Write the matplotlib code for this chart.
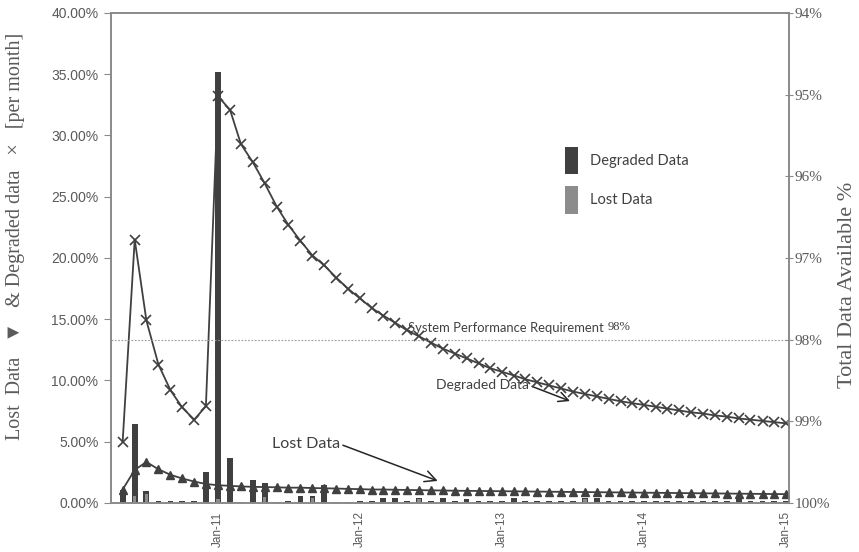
import matplotlib.pyplot as plt
import matplotlib.dates as mdates
from matplotlib.patches import Patch
import numpy as np
import pandas as pd

# monthly data, May-10 .. Jan-15
months = pd.date_range('2010-05-01', '2015-01-01', freq='MS')

# Degraded data per month (x markers), %
degraded_line = [5.0, 21.5, 14.9, 11.3, 9.2, 7.8, 6.8, 7.9,
                 33.2, 32.1, 29.3, 27.8, 26.1, 24.2, 22.7, 21.4, 20.2, 19.4, 18.4, 17.5,
                 16.7, 15.9, 15.3, 14.7, 14.1, 13.6, 13.1, 12.6, 12.2, 11.8, 11.4, 11.0,
                 10.7, 10.4, 10.1, 9.85, 9.6, 9.35, 9.1, 8.9, 8.7, 8.5, 8.3, 8.15,
                 8.0, 7.85, 7.7, 7.55, 7.4, 7.3, 7.15, 7.05, 6.9, 6.8, 6.7, 6.6, 6.5]

# Lost data per month (triangle markers), %
lost_line = [1.1, 2.7, 3.35, 2.75, 2.3, 2.0, 1.75, 1.55,
             1.45, 1.4, 1.35, 1.32, 1.3, 1.28, 1.25, 1.25, 1.22, 1.2, 1.18, 1.15,
             1.13, 1.1, 1.1, 1.08, 1.06, 1.05, 1.03, 1.02, 1.0, 0.99, 0.98, 0.97,
             0.96, 0.95, 0.94, 0.93, 0.92, 0.91, 0.9, 0.89, 0.88, 0.87, 0.86, 0.85,
             0.84, 0.83, 0.82, 0.81, 0.8, 0.79, 0.78, 0.77, 0.76, 0.75, 0.74, 0.73, 0.72]

# bars: degraded data (dark) and lost data (light), %
degraded_bars = [1.1, 6.45, 1.0, 0.15, 0.15, 0.2, 0.2, 2.5,
                 35.2, 3.7, 0.1, 1.9, 1.6, 0.1, 0.15, 0.55, 0.55, 1.5, 0.05, 0.1,
                 0.15, 0.2, 0.4, 0.4, 0.15, 0.4, 0.15, 0.4, 0.15, 0.35, 0.2, 0.15,
                 0.2, 0.4, 0.15, 0.2, 0.15, 0.2, 0.15, 0.4, 0.4, 0.15, 0.2, 0.15,
                 0.2, 0.15, 0.2, 0.15, 0.2, 0.15, 0.2, 0.15, 0.45, 0.2, 0.15, 0.2, 0.15]
lost_bars = [0.0, 0.6, 0.7, 0.0, 0.0, 0.0, 0.0, 0.0,
             0.3, 0.0, 0.0, 0.0, 0.5, 0.0, 0.0, 0.0, 0.4, 0.0, 0.0, 0.0,
             0.0, 0.0, 0.0, 0.0, 0.0, 0.35, 0.0, 0.0, 0.0, 0.0, 0.0, 0.0,
             0.0, 0.0, 0.0, 0.0, 0.0, 0.0, 0.0, 0.3, 0.0, 0.0, 0.0, 0.0,
             0.0, 0.0, 0.0, 0.0, 0.0, 0.0, 0.0, 0.0, 0.0, 0.0, 0.0, 0.0, 0.0]

left_ticks = np.arange(0, 45, 5)
right_ticks = [94, 95, 96, 97, 98, 99, 100]
year_ticks = pd.to_datetime(['2011-01-01', '2012-01-01', '2013-01-01', '2014-01-01', '2015-01-01'])

dark = '#404040'
light = '#8c8c8c'
axis_gray = '#8a8a8a'
text_gray = '#5a5a5a'

fig = plt.figure(figsize=(8.59, 5.52), dpi=100)
ax = fig.add_axes([0.1292, 0.0888, 0.7893, 0.8877])
ax2 = ax.twinx()

# bars
ax.bar(months, degraded_bars, width=15, color=dark, zorder=2)
ax.bar(months, lost_bars, width=9, color=light, zorder=3)

# lines
ax.plot(months, degraded_line, color=dark, lw=1.3, marker='x', ms=6.5, mew=1.2, zorder=4)
ax.plot(months, lost_line, color=dark, lw=1.3, marker='^', ms=6, zorder=4)

ax.set_ylim(0, 40)
ax.set_yticks(left_ticks)
ax.set_yticklabels([f'{v:.2f}%' for v in left_ticks], family='Liberation Sans',
                   fontsize=10, color=text_gray)
ax.set_xlim(pd.Timestamp('2010-04-01'), pd.Timestamp('2015-01-08'))
ax.set_xticks(year_ticks)
ax.xaxis.set_major_formatter(mdates.DateFormatter('%b-%y'))
for lbl in ax.get_xticklabels():
    lbl.set_rotation(90)
    lbl.set_family('Liberation Sans')
    lbl.set_fontsize(8.5)
    lbl.set_color(text_gray)
ax.tick_params(axis='y', direction='out', length=5, color=axis_gray, pad=4)
ax.tick_params(axis='x', length=0, pad=6)

ax2.set_ylim(100, 94)
ax2.set_yticks(right_ticks)
ax2.set_yticklabels([f'{v}%' for v in right_ticks], family='Liberation Serif',
                    fontsize=11, color=text_gray)
ax2.tick_params(axis='y', direction='inout', length=6, color=axis_gray, pad=1)
ax2.axhline(98, color='#999999', lw=0.8, ls=(0, (1.5, 1.5)), zorder=1)

for a in (ax, ax2):
    for s in a.spines.values():
        s.set_color(axis_gray)
        s.set_linewidth(1.2)

ax.set_ylabel('Lost  Data   \u25bc   & Degraded data   \u00d7   [per month]',
              family=['Liberation Serif', 'DejaVu Sans'], fontsize=14.5, color=text_gray)
ax.yaxis.set_label_coords(-0.127, 0.545)
ax2.set_ylabel('Total Data Available %', family='Liberation Serif', fontsize=16,
               color=text_gray)
ax2.yaxis.set_label_coords(1.073, 0.445)

# requirement label
req = ax.text(0.438, 0.345, 'System Performance Requirement', transform=ax.transAxes,
              family='Lato', fontsize=9.4, color='#404040', ha='left', va='bottom')
ax.annotate('98%', xy=(1, 0), xycoords=req, xytext=(3, 1), textcoords='offset points',
            family='Liberation Serif', fontsize=9, color='#404040', ha='left', va='bottom')

# annotations
ax.annotate('Degraded Data', xy=(0.677, 0.208), xytext=(0.617, 0.24),
            xycoords='axes fraction', textcoords='axes fraction',
            family='Lato', fontsize=10, color='#404040', ha='right', va='center',
            arrowprops=dict(arrowstyle='->,head_length=0.7,head_width=0.35', color='#262626',
                            lw=1.1, relpos=(1, 0.5), shrinkA=0, shrinkB=0))
ax.annotate('Lost Data', xy=(0.482, 0.045), xytext=(0.338, 0.12),
            xycoords='axes fraction', textcoords='axes fraction',
            family='Lato', fontsize=11.5, color='#404040', ha='right', va='center',
            arrowprops=dict(arrowstyle='->,head_length=0.7,head_width=0.35', color='#262626',
                            lw=1.1, relpos=(1, 0.5), shrinkA=0, shrinkB=0))

handles = [Patch(facecolor=dark, edgecolor='none', label='Degraded Data'),
           Patch(facecolor=light, edgecolor='none', label='Lost Data')]
leg = ax.legend(handles=handles, loc='upper left', bbox_to_anchor=(0.659, 0.742),
                frameon=False, handlelength=0.9, handleheight=2.5, labelspacing=0.85,
                handletextpad=0.8, borderpad=0,
                prop={'family': 'Lato', 'size': 10.5})
for t in leg.get_texts():
    t.set_color('#404040')

fig.savefig('out.png', dpi=100)
